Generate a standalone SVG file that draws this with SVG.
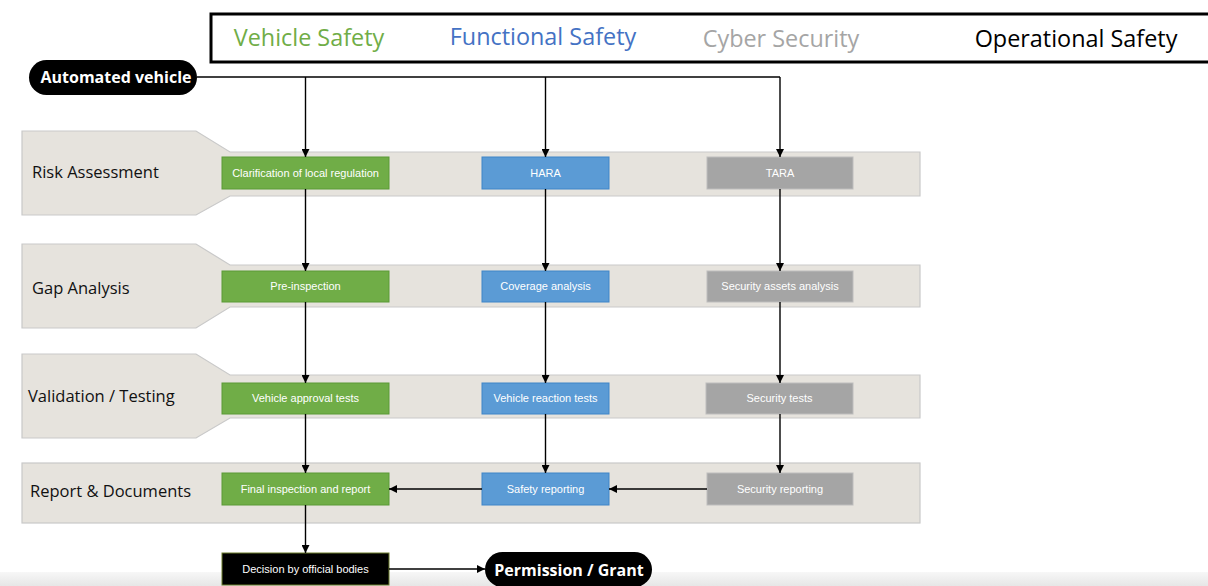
<svg xmlns="http://www.w3.org/2000/svg" width="1208" height="586" viewBox="0 0 1208 586">
  <defs>
    <marker id="arrow" viewBox="0 0 10 10" refX="10" refY="5" markerWidth="8" markerHeight="8" markerUnits="userSpaceOnUse" orient="auto">
      <path d="M0,0 L10,5 L0,10 Z" fill="#000"/>
    </marker>
    <linearGradient id="floor" x1="0" y1="0" x2="0" y2="1">
      <stop offset="0" stop-color="#f7f7f7"/>
      <stop offset="1" stop-color="#e6e6e6"/>
    </linearGradient>
    <style>
      .band { fill: #e6e3dd; stroke: #c9c9c9; stroke-width: 1.2; }
      .phase { font-family: "Open Sans", "Liberation Sans", sans-serif; font-size: 16.5px; fill: #111; }
      .box text { font-family: "Liberation Sans", Arial, sans-serif; font-size: 11px; fill: #fff; text-anchor: middle; }
      .green { fill: #70ad47; stroke: #5a9a36; stroke-width: 1; }
      .blue { fill: #5b9bd5; stroke: #3f85c8; stroke-width: 1; }
      .grey { fill: #a5a5a5; stroke: #bdbdbd; stroke-width: 1; }
      .dark { fill: #000; stroke: #6b7a2a; stroke-width: 1; }
      .pill { fill: #000; }
      .pill text { font-family: "Open Sans", "Liberation Sans", sans-serif; font-weight: bold; fill: #fff; text-anchor: middle; }
      .domain { font-family: "Open Sans", "Liberation Sans", sans-serif; font-size: 23.4px; text-anchor: middle; }
      .conn { fill: none; stroke: #000; stroke-width: 1.4; }
    </style>
  </defs>

  <rect x="0" y="0" width="1208" height="586" fill="#fff"/>
  <rect x="0" y="572" width="1208" height="14" fill="url(#floor)"/>

  <!-- domain header -->
  <g id="domains">
    <rect x="211" y="14" width="1010" height="48" fill="#fff" stroke="#000" stroke-width="3"/>
    <text class="domain" x="309" y="46" fill="#70ad47">Vehicle Safety</text>
    <text class="domain" x="543" y="45" fill="#4472c4">Functional Safety</text>
    <text class="domain" x="781" y="47" fill="#a5a5a5">Cyber Security</text>
    <text class="domain" x="1076" y="47" fill="#000">Operational Safety</text>
  </g>

  <!-- phase bands -->
  <g id="phase-risk">
    <path class="band" d="M22,131 H196 L230,152 H920 V196 H230 L196,215 H22 Z"/>
    <text class="phase" x="32" y="178">Risk Assessment</text>
  </g>
  <g id="phase-gap">
    <path class="band" d="M22,244 H196 L230,265 H920 V307 H230 L196,328 H22 Z"/>
    <text class="phase" x="32" y="294">Gap Analysis</text>
  </g>
  <g id="phase-validation">
    <path class="band" d="M22,354 H196 L230,375 H920 V418 H230 L196,438 H22 Z"/>
    <text class="phase" x="28" y="402">Validation / Testing</text>
  </g>
  <g id="phase-report">
    <rect class="band" x="22" y="463" width="898" height="60"/>
    <text class="phase" x="30" y="497">Report &amp; Documents</text>
  </g>

  <!-- start / end terminals -->
  <g id="automated-vehicle" class="pill">
    <rect x="29" y="60" width="168" height="35" rx="17.5"/>
    <text x="116" y="83" font-size="16">Automated vehicle</text>
  </g>
  <g id="permission-grant" class="pill">
    <rect x="485" y="552" width="167" height="35" rx="17.5"/>
    <text x="569" y="576" font-size="16">Permission / Grant</text>
  </g>

  <!-- process steps -->
  <g id="clarification" class="box"><rect class="green" x="222" y="157" width="167" height="32"/><text x="305.5" y="177">Clarification of local regulation</text></g>
  <g id="hara" class="box"><rect class="blue" x="482" y="157" width="127" height="32"/><text x="545.5" y="177">HARA</text></g>
  <g id="tara" class="box"><rect class="grey" x="707" y="157" width="146" height="32"/><text x="780" y="177">TARA</text></g>

  <g id="pre-inspection" class="box"><rect class="green" x="222" y="271" width="167" height="31"/><text x="305.5" y="290">Pre-inspection</text></g>
  <g id="coverage-analysis" class="box"><rect class="blue" x="482" y="271" width="127" height="31"/><text x="545.5" y="290">Coverage analysis</text></g>
  <g id="security-assets-analysis" class="box"><rect class="grey" x="707" y="271" width="146" height="31"/><text x="780" y="290">Security assets analysis</text></g>

  <g id="vehicle-approval-tests" class="box"><rect class="green" x="222" y="383" width="167" height="31"/><text x="305.5" y="402">Vehicle approval tests</text></g>
  <g id="vehicle-reaction-tests" class="box"><rect class="blue" x="482" y="383" width="127" height="31"/><text x="545.5" y="402">Vehicle reaction tests</text></g>
  <g id="security-tests" class="box"><rect class="grey" x="706" y="383" width="147" height="31"/><text x="779.5" y="402">Security tests</text></g>

  <g id="final-inspection" class="box"><rect class="green" x="222" y="473" width="167" height="32"/><text x="305.5" y="493">Final inspection and report</text></g>
  <g id="safety-reporting" class="box"><rect class="blue" x="482" y="473" width="127" height="32"/><text x="545.5" y="493">Safety reporting</text></g>
  <g id="security-reporting" class="box"><rect class="grey" x="707" y="473" width="146" height="32"/><text x="780" y="493">Security reporting</text></g>

  <g id="decision" class="box"><rect class="dark" x="222" y="553" width="167" height="32"/><text x="305.5" y="573">Decision by official bodies</text></g>

  <!-- connectors -->
  <g id="connectors" class="conn">
    <path class="conn" d="M197,77 H780"/>
    <path class="conn" d="M305.5,77 V157" marker-end="url(#arrow)"/>
    <path class="conn" d="M545.5,77 V157" marker-end="url(#arrow)"/>
    <path class="conn" d="M780,77 V157" marker-end="url(#arrow)"/>

    <path class="conn" d="M305.5,189 V271" marker-end="url(#arrow)"/>
    <path class="conn" d="M545.5,189 V271" marker-end="url(#arrow)"/>
    <path class="conn" d="M780,189 V271" marker-end="url(#arrow)"/>

    <path class="conn" d="M305.5,302 V383" marker-end="url(#arrow)"/>
    <path class="conn" d="M545.5,302 V383" marker-end="url(#arrow)"/>
    <path class="conn" d="M780,302 V383" marker-end="url(#arrow)"/>

    <path class="conn" d="M305.5,414 V473" marker-end="url(#arrow)"/>
    <path class="conn" d="M545.5,414 V473" marker-end="url(#arrow)"/>
    <path class="conn" d="M780,414 V473" marker-end="url(#arrow)"/>

    <path class="conn" d="M707,489 H609" marker-end="url(#arrow)"/>
    <path class="conn" d="M482,489 H389" marker-end="url(#arrow)"/>

    <path class="conn" d="M305.5,505 V553" marker-end="url(#arrow)"/>
    <path class="conn" d="M389,569 H485" marker-end="url(#arrow)"/>
  </g>
</svg>
